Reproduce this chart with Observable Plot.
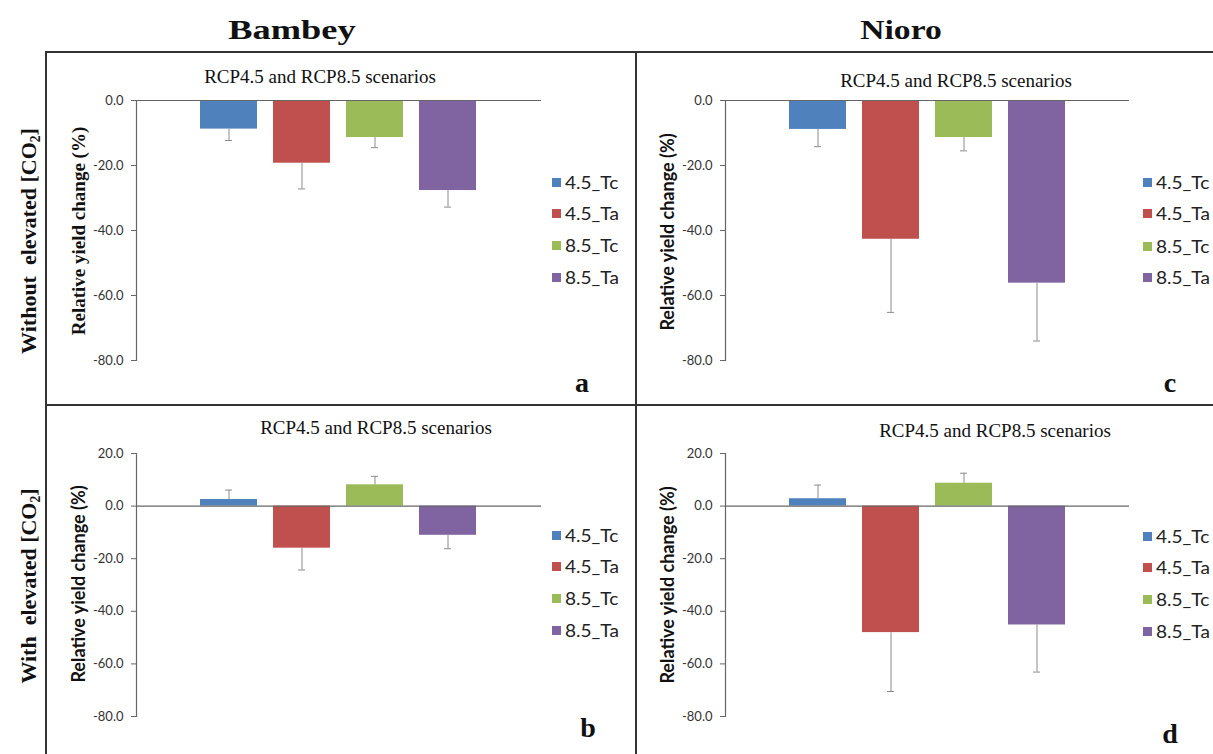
<!DOCTYPE html>
<html><head><meta charset="utf-8">
<script src="https://cdn.jsdelivr.net/npm/d3@7"></script>
<script src="https://cdn.jsdelivr.net/npm/@observablehq/plot@0.6"></script>
<style>
html,body{margin:0;padding:0;background:#fff;}
#root{position:relative;width:1213px;height:754px;overflow:hidden;background:#fff;}
.abs{position:absolute;white-space:nowrap;line-height:1;}
.serif{font-family:"Liberation Serif","Times New Roman",serif;color:#111;}
.serifb{font-family:"Liberation Serif","Times New Roman",serif;font-weight:bold;color:#111;}
.sansb{font-family:Lato,"Liberation Sans",sans-serif;font-weight:bold;color:#111;}
.leg{font-family:Lato,"Liberation Sans",sans-serif;font-size:17px;color:#222;}
.line{position:absolute;background:#333;}
sub{font-size:0.62em;vertical-align:-0.28em;line-height:0;}
.plot{position:absolute;}
</style></head>
<body><div id="root"></div>
<script>
// ---- data ----
const series = ["4.5_Tc", "4.5_Ta", "8.5_Tc", "8.5_Ta"];
const colors = ["#4F81BD", "#C0504D", "#9BBB59", "#8064A2"];
const bambeyWithout = [-8.8, -19.3, -11.4, -27.7];
const bambeyWithoutErr = [3.5, 7.9, 3.1, 5.1];
const nioroWithout = [-8.9, -42.7, -11.4, -56.2];
const nioroWithoutErr = [5.3, 22.5, 4.1, 17.8];
const bambeyWith = [2.5, -16.0, 8.1, -11.1];
const bambeyWithErr = [3.6, 8.3, 3.2, 5.1];
const nioroWith = [2.8, -48.1, 8.7, -45.2];
const nioroWithErr = [5.2, 22.4, 3.8, 17.9];
const ticksWithout = [0, -20, -40, -60, -80];
const ticksWith = [20, 0, -20, -40, -60, -80];
const panelTitle = "RCP4.5 and RCP8.5 scenarios";
const yLabel = "Relative yield change (%)";

const root = document.getElementById("root");
function place(html, x, y, cls, style, rot) {
  const d = document.createElement("div");
  d.className = "abs " + cls;
  d.innerHTML = html;
  d.style.left = x + "px";
  d.style.top = y + "px";
  d.style.transform = "translate(-50%,-50%)" + (rot ? " rotate(-90deg)" : "");
  Object.assign(d.style, style || {});
  root.appendChild(d);
  return d;
}
function line(x, y, w, h) {
  const d = document.createElement("div");
  d.className = "line";
  Object.assign(d.style, {left: x + "px", top: y + "px", width: w + "px", height: h + "px"});
  root.appendChild(d);
}
// grid borders
line(46, 51, 1167, 2);
line(45, 51, 2, 703);
line(635, 51, 2, 703);
line(46, 404, 1167, 2);

// headers
place("Bambey", 292, 30, "serifb", {fontSize: "28px", transform: "translate(-50%,-50%) scaleX(1.3)"});
place("Nioro", 901, 30, "serifb", {fontSize: "28px", transform: "translate(-50%,-50%) scaleX(1.2)"});
place("Without&nbsp;&nbsp;elevated [CO<sub>2</sub>]", 29, 241, "serifb", {fontSize: "22px"}, true);
place("With&nbsp;&nbsp;elevated [CO<sub>2</sub>]", 29, 586, "serifb", {fontSize: "22px"}, true);

const panels = [
  {values: bambeyWithout, errs: bambeyWithoutErr, domain: [-80, 0], ticks: ticksWithout,
   left: 46, top: 52, width: 590, height: 353, ml: 90, mr: 95, mt: 48, mb: 45,
   title: [320, 76], ylab: [78, 231, "serifb", "19px"], letter: ["a", 582, 383],
   leg: [552, [182, 213, 245, 277]]},
  {values: nioroWithout, errs: nioroWithoutErr, domain: [-80, 0], ticks: ticksWithout,
   left: 636, top: 52, width: 577, height: 353, ml: 89, mr: 84, mt: 48, mb: 45,
   title: [956, 80], ylab: [667, 232, "sansb", "18px"], letter: ["c", 1170, 383],
   leg: [1143, [182, 213, 246, 277]]},
  {values: bambeyWith, errs: bambeyWithErr, domain: [-80, 20], ticks: ticksWith,
   left: 46, top: 405, width: 590, height: 349, ml: 90, mr: 95, mt: 48, mb: 38,
   title: [376, 427], ylab: [78, 584, "sansb", "18px"], letter: ["b", 588, 728],
   leg: [552, [535, 566, 598, 630]]},
  {values: nioroWith, errs: nioroWithErr, domain: [-80, 20], ticks: ticksWith,
   left: 636, top: 405, width: 577, height: 349, ml: 89, mr: 84, mt: 48, mb: 38,
   title: [995, 430], ylab: [667, 585, "sansb", "18px"], letter: ["d", 1170, 734],
   leg: [1143, [536, 567, 599, 631]]}
];

for (const p of panels) {
  const rows = series.map((s, i) => ({
    series: s, value: p.values[i],
    end: p.values[i] + (p.values[i] >= 0 ? 1 : -1) * p.errs[i]
  }));
  const chart = Plot.plot({
    width: p.width, height: p.height,
    marginLeft: p.ml, marginRight: p.mr, marginTop: p.mt, marginBottom: p.mb,
    style: {fontFamily: "Lato, 'Liberation Sans', sans-serif", fontSize: "13px", color: "#333", background: "transparent", overflow: "visible"},
    x: {domain: series, paddingInner: 0.216, paddingOuter: 0, insetLeft: 63, insetRight: 63, axis: null},
    y: {domain: p.domain, axis: null},
    color: {domain: series, range: colors},
    marks: [
      Plot.barY(rows, {x: "series", y1: 0, y2: "value", fill: "series"}),
      Plot.ruleX(rows, {x: "series", y1: "value", y2: "end", stroke: "#8c8c8c", strokeWidth: 1}),
      Plot.tickY(rows, {x: "series", y: "end", stroke: "#8c8c8c", strokeWidth: 1, insetLeft: 25, insetRight: 25}),
      Plot.ruleY([0], {stroke: "#666", strokeWidth: 1.2}),
      Plot.frame({anchor: "left", stroke: "#666", strokeWidth: 1.2}),
      Plot.axisY({ticks: p.ticks, tickSize: 5, tickPadding: 8, tickFormat: d => d.toFixed(1), label: null, stroke: "#666"})
    ]
  });
  chart.classList.add("plot");
  chart.style.left = p.left + "px";
  chart.style.top = p.top + "px";
  root.appendChild(chart);

  place(panelTitle, p.title[0], p.title[1], "serif", {fontSize: "19px"});
  place(yLabel, p.ylab[0], p.ylab[1], p.ylab[2], {fontSize: p.ylab[3]}, true);
  place(p.letter[0], p.letter[1], p.letter[2], "serifb", {fontSize: "28px"});
  series.forEach((s, i) => {
    const sq = document.createElement("div");
    Object.assign(sq.style, {position: "absolute", left: p.leg[0] + "px", top: (p.leg[1][i] - 4.5) + "px", width: "9px", height: "9px", background: colors[i]});
    root.appendChild(sq);
    const t = document.createElement("div");
    t.className = "abs leg";
    t.textContent = s;
    Object.assign(t.style, {left: (p.leg[0] + 13) + "px", top: p.leg[1][i] + "px", transform: "translateY(-50%) scaleX(1.12)", transformOrigin: "left center"});
    root.appendChild(t);
  });
}
</script>
</body></html>
